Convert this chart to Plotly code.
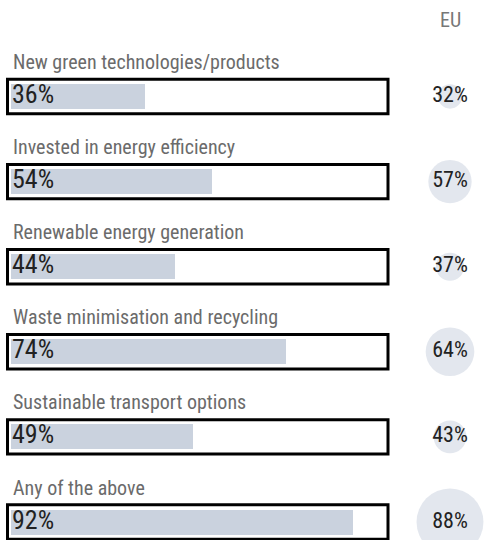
import plotly.graph_objects as go

categories = [
    "New green technologies/products",
    "Invested in energy efficiency",
    "Renewable energy generation",
    "Waste minimisation and recycling",
    "Sustainable transport options",
    "Any of the above",
]
country_values = [36, 54, 44, 74, 49, 92]
eu_values = [32, 57, 37, 64, 43, 88]
eu_header = "EU"

FONT = "Roboto Condensed, DejaVu Sans Condensed, sans-serif"
BAR_COLOR = "#cad2de"
CIRCLE_COLOR = "#d7dde7"
W, H = 484, 540

# pixel geometry -> data ranges
x_px0, x_px_per = 11.0, 3.72          # x=0 at pixel 11, 1 unit = 3.72 px
y_px0, y_px_per = 96.5, 85.1          # row 0 centre at pixel 96.5, rows 85.1 px apart
x_range = [-x_px0 / x_px_per, (W - x_px0) / x_px_per]
y_range = [(H - y_px0) / y_px_per, -y_px0 / y_px_per]
eu_x = (450 - x_px0) / x_px_per

idx = list(range(len(categories)))

fig = go.Figure()
fig.add_trace(go.Bar(
    x=country_values, y=idx, orientation="h",
    width=25 / y_px_per, marker=dict(color=BAR_COLOR, line=dict(width=0)),
    hoverinfo="skip", showlegend=False,
))
fig.add_trace(go.Scatter(
    x=[eu_x] * len(eu_values), y=idx, mode="markers+text",
    marker=dict(size=[v * 0.76 for v in eu_values], color=CIRCLE_COLOR, line=dict(width=0)),
    text=[f"{v}%" for v in eu_values], textposition="middle center",
    textfont=dict(family=FONT, size=22, color="#222222"),
    hoverinfo="skip", showlegend=False, cliponaxis=True,
))

shapes = []
annotations = []
bh = 34.4 / y_px_per
for i, (cat, v) in enumerate(zip(categories, country_values)):
    shapes.append(dict(
        type="rect", xref="x", yref="y",
        x0=(7.5 - x_px0) / x_px_per, x1=(388 - x_px0) / x_px_per,
        y0=i - bh / 2, y1=i + bh / 2,
        line=dict(color="#000000", width=3), fillcolor="rgba(0,0,0,0)", layer="above",
    ))
    annotations.append(dict(
        x=0, y=i, xref="x", yref="y", xanchor="left", yanchor="middle",
        yshift=34.5, xshift=0, text=cat, showarrow=False,
        font=dict(family=FONT, size=20, color="#6b6b6b"),
    ))
    annotations.append(dict(
        x=0, y=i, xref="x", yref="y", xanchor="left", yanchor="middle",
        yshift=2.5, xshift=-1, text=f"{v}%", showarrow=False,
        font=dict(family=FONT, size=26, color="#222222"),
    ))
annotations.append(dict(
    x=eu_x, y=1 - 20 / H, xref="x", yref="paper", yanchor="middle",
    text=eu_header, showarrow=False, font=dict(family=FONT, size=20, color="#777777"),
))

fig.update_layout(
    width=W, height=H, margin=dict(l=0, r=0, t=0, b=0),
    paper_bgcolor="white", plot_bgcolor="white",
    xaxis=dict(range=x_range, visible=False, fixedrange=True),
    yaxis=dict(range=y_range, visible=False, fixedrange=True),
    shapes=shapes, annotations=annotations, bargap=0,
)
fig.write_html("out.html", config={"displayModeBar": False},
               post_script="document.body.style.margin='0';")
